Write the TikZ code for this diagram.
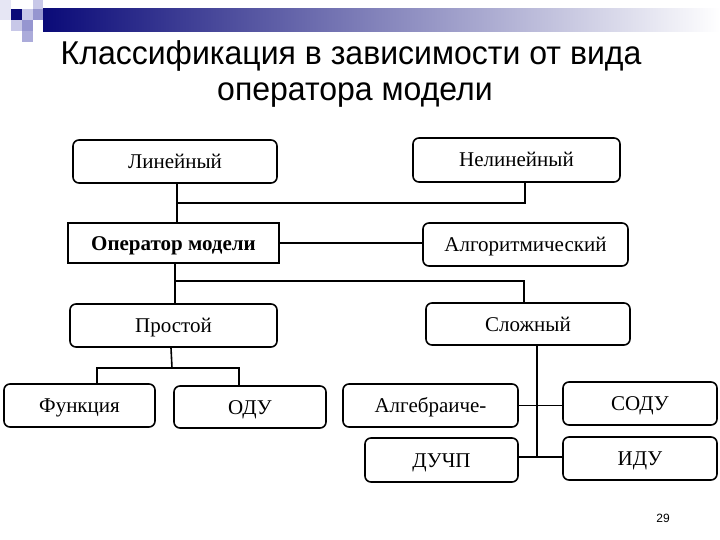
\documentclass[tikz,border=0pt]{standalone}
\usepackage{fontspec}
\setmainfont{Liberation Serif}
\newfontfamily\titlefont[FakeStretch=0.97]{Liberation Sans}
\newfontfamily\pagefont{Liberation Sans}
\usetikzlibrary{positioning}
\definecolor{navyb}{RGB}{10,10,120}
\definecolor{lightb}{RGB}{200,200,232}
\definecolor{medb}{RGB}{150,150,208}
\definecolor{faintb}{RGB}{230,230,244}
\tikzset{
  box/.style={draw=black, line width=1.6pt, rounded corners=6pt, fill=white, inner sep=0pt, text height=14pt, text depth=0pt, font=\fontsize{21}{24}\selectfont},
  opbox/.style={draw=black, line width=2.8pt, fill=white, inner sep=0pt, text height=14pt, text depth=0pt, font=\fontsize{21}{24}\selectfont\bfseries},
  conn/.style={draw=black, line width=1.6pt},
  titletext/.style={font=\titlefont\fontsize{33}{38}\selectfont, anchor=base, inner sep=0pt}
}
\begin{document}
\begin{tikzpicture}[x=1pt,y=-1pt]
\useasboundingbox (0,0) rectangle (720,540);
\fill[white] (0,0) rectangle (720,540);
% header bar
\shade[left color=navyb, right color=white] (43,9) rectangle (720,32);
\fill[faintb] (0,-2) rectangle (11,20);
\fill[navyb] (11,9) rectangle (22,20);
\fill[lightb] (22,9) rectangle (33,20);
\fill[medb] (33,9) rectangle (43,20);
\fill[lightb] (11,20) rectangle (22,31);
\fill[medb] (22,20) rectangle (33,31);
\fill[medb!80] (22,31) rectangle (33,42);
\fill[lightb] (33,-2) rectangle (43,9);
% title
\node[titletext] (t1) at (351,65) {Классификация в зависимости от вида};
\node[titletext] (t2) at (355,101) {оператора модели};
% boxes
\node[box, minimum width=204pt, minimum height=43pt] (lin) at (175,161.5) {Линейный};
\node[box, minimum width=207pt, minimum height=44pt] (nlin) at (516.5,160) {Нелинейный};
\node[opbox, minimum width=211pt, minimum height=40pt] (op) at (173.5,243) {Оператор модели};
\node[box, minimum width=205pt, minimum height=43pt] (alg) at (525.5,244.5) {Алгоритмический};
\node[box, minimum width=207pt, minimum height=43pt] (prost) at (173.5,325.5) {Простой};
\node[box, minimum width=204pt, minimum height=42pt] (slozh) at (528,324) {Сложный};
\node[box, minimum width=151pt, minimum height=43pt] (func) at (79.5,405.5) {Функция};
\node[box, minimum width=152pt, minimum height=42pt] (odu) at (250,407) {ОДУ};
\node[box, minimum width=175pt, minimum height=43pt] (algb) at (430.5,405.5) {Алгебраиче-};
\node[box, minimum width=154pt, minimum height=43pt] (sodu) at (640,403.5) {СОДУ};
\node[box, minimum width=153pt, minimum height=44pt] (duchp) at (441.5,460) {ДУЧП};
\node[box, minimum width=154pt, minimum height=43pt] (idu) at (640,458.5) {ИДУ};
% junctions
\coordinate (j1) at (177,203);
\coordinate (j2) at (175,281);
\coordinate (j3) at (172,368);
\coordinate (j4) at (537,457);
% connectors
\draw[conn] ([xshift=2pt]lin.south) -- (j1 |- op.north);
\draw[conn] ([xshift=8.5pt]nlin.south) |- (j1);
\draw[conn] (op.east) -- (op.east -| alg.west);
\draw[conn] ([xshift=1.5pt]op.south) -- (j2 |- prost.north);
\draw[conn] (j2) -| ([xshift=-4pt]slozh.north);
\draw[conn] ([xshift=-2.5pt]prost.south) -- (j3);
\draw[conn] ([xshift=17.5pt]func.north) |- (j3) -| ([xshift=-11pt]odu.north);
\draw[conn] ([xshift=9pt]slozh.south) -- (j4);
\draw[conn] (algb.east) -- (algb.east -| sodu.west);
\draw[conn] ([yshift=3pt]duchp.east) -- ([yshift=3pt]duchp.east -| idu.west);
% page number
\node[font=\pagefont\fontsize{12}{14}\selectfont, inner sep=0pt] (pg) at (663,518) {29};
\end{tikzpicture}
\end{document}
